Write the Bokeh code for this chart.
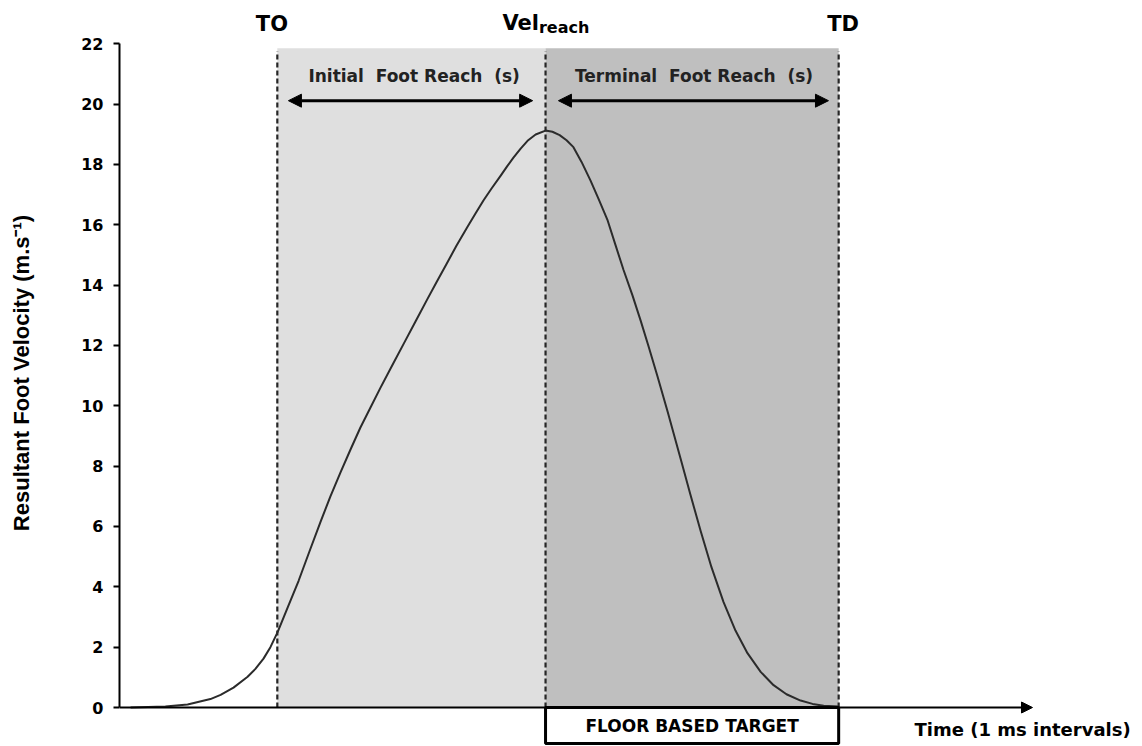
from bokeh.plotting import figure
from bokeh.models import Range1d, FixedTicker, Label, Arrow, NormalHead
from bokeh.embed import file_html
from bokeh.resources import INLINE

# ---- data ----
time_ms = [3.7, 15.3, 22.7, 30.3, 33.7, 38.0, 42.7, 45.3, 48.0, 50.3, 52.7, 56.0,
           59.7, 63.3, 67.0, 70.3, 73.7, 77.0, 80.3, 83.7, 87.0, 90.7, 94.7, 98.7,
           102.7, 105.7, 109.0, 112.3, 116.0, 118.7, 121.3, 124.0, 127.0, 129.3,
           131.3, 133.7, 136.0, 138.7, 142.0, 144.3, 146.7, 149.0, 151.3, 154.0,
           157.0, 159.7, 162.7, 165.3, 168.0, 171.0, 173.7, 176.3, 179.3, 182.7,
           187.0, 190.3, 193.7, 197.3, 201.3, 205.3, 209.3, 213.7, 218.0, 222.3,
           227.0, 231.0, 234.7, 239.7]
velocity = [0.0, 0.03, 0.1, 0.28, 0.42, 0.66, 1.02, 1.28, 1.62, 2.0, 2.5, 3.3,
            4.2, 5.17, 6.15, 7.0, 7.8, 8.55, 9.28, 9.95, 10.6, 11.3, 12.05, 12.8,
            13.55, 14.1, 14.7, 15.3, 15.93, 16.38, 16.8, 17.2, 17.62, 17.95,
            18.22, 18.52, 18.78, 18.99, 19.12, 19.08, 18.97, 18.8, 18.57, 18.08,
            17.46, 16.85, 16.14, 15.33, 14.5, 13.65, 12.82, 11.98, 10.98, 9.8,
            8.25, 7.05, 5.85, 4.65, 3.5, 2.55, 1.8, 1.18, 0.74, 0.44,
            0.23, 0.12, 0.06, 0.03]

event_names = ["TO", "Vel", "TD"]
event_times = [52.6, 142.0, 239.7]
y_ticks = [0, 2, 4, 6, 8, 10, 12, 14, 16, 18, 20, 22]
axis_end_time = 304.3

FONT = "DejaVu Sans"

p = figure(width=1140, height=745, output_backend="svg", toolbar_location=None,
           x_axis_type=None,
           x_range=Range1d(0, 340.3), y_range=Range1d(-1.259, 23.43),
           min_border_left=119, min_border_right=0, min_border_top=0, min_border_bottom=0)
p.outline_line_color = None
p.grid.visible = False
p.background_fill_color = "white"

# y axis
ya = p.yaxis[0]
ya.bounds = (0, 22)
ya.ticker = FixedTicker(ticks=y_ticks)
ya.axis_line_color = "black"
ya.axis_line_width = 2
ya.major_tick_line_width = 2
ya.major_tick_line_color = "black"
ya.major_tick_out = 6
ya.major_tick_in = 0
ya.minor_tick_out = 0
ya.minor_tick_in = 0
ya.major_label_standoff = 10
ya.major_label_text_font = FONT
ya.major_label_text_font_style = "bold"
ya.major_label_text_font_size = "16px"
ya.major_label_text_color = "black"
ya.axis_label = "Resultant Foot Velocity (m.s\u207B\u00B9)"
ya.axis_label_text_font = "Liberation Sans"
ya.axis_label_text_font_style = "bold"
ya.axis_label_text_font_size = "22px"
ya.axis_label_text_color = "black"
ya.axis_label_standoff = 44

top_shade = 21.85
# shaded phases
p.quad(left=[event_times[0]], right=[event_times[1]], bottom=[0], top=[top_shade],
       fill_color="#dfdfdf", line_color=None)
p.quad(left=[event_times[1]], right=[event_times[2]], bottom=[0], top=[top_shade],
       fill_color="#bfbfbf", line_color=None)

# dashed event lines
p.segment(x0=event_times, y0=[0] * 3, x1=event_times, y1=[21.75] * 3,
          line_color="#262626", line_width=2.2, line_dash="5 3")

# velocity curve
p.line(time_ms, velocity, line_color="#2b2b2b", line_width=2, line_join="round")

# x axis as arrow
p.add_layout(Arrow(end=NormalHead(size=11, fill_color="black", line_color="black"),
                   x_start=0, y_start=0, x_end=axis_end_time, y_end=0,
                   line_color="black", line_width=2))

# floor based target box
p.quad(left=[event_times[1]], right=[event_times[2]], bottom=[-1.19], top=[0],
       fill_color="white", line_color="black", line_width=3)
p.add_layout(Label(x=(event_times[1] + event_times[2]) / 2, y=-0.61, text="FLOOR BASED TARGET",
                   text_align="center", text_baseline="middle", text_font=FONT,
                   text_font_style="bold", text_font_size="17px", text_color="black"))

p.add_layout(Label(x=265.0, y=-0.73, text="Time (1 ms intervals)",
                   text_align="left", text_baseline="middle", text_font=FONT,
                   text_font_style="bold", text_font_size="18px", text_color="black"))

# phase arrows
for xs, xe in [(56.3, 137.7), (146.3, 236.3)]:
    p.add_layout(Arrow(start=NormalHead(size=13, fill_color="black", line_color="black"),
                       end=NormalHead(size=13, fill_color="black", line_color="black"),
                       x_start=xs, y_start=20.11, x_end=xe, y_end=20.11,
                       line_color="black", line_width=3))

p.add_layout(Label(x=98.2, y=20.94, text="Initial\u00a0 Foot Reach\u00a0 (s)", text_align="center",
                   text_baseline="middle", text_font=FONT, text_font_style="bold",
                   text_font_size="17px", text_color="#222222"))
p.add_layout(Label(x=191.5, y=20.94, text="Terminal\u00a0 Foot Reach\u00a0 (s)", text_align="center",
                   text_baseline="middle", text_font=FONT, text_font_style="bold",
                   text_font_size="17px", text_color="#222222"))

# event labels
p.add_layout(Label(x=50.8, y=22.65, text=event_names[0], text_align="center",
                   text_baseline="alphabetic", text_font=FONT, text_font_style="bold",
                   text_font_size="21px", text_color="black"))
p.add_layout(Label(x=139.8, y=22.67, text=event_names[1], text_align="right",
                   text_baseline="alphabetic", text_font=FONT, text_font_style="bold",
                   text_font_size="21px", text_color="black"))
p.add_layout(Label(x=139.8, y=22.53, text="reach", text_align="left",
                   text_baseline="alphabetic", text_font=FONT, text_font_style="bold",
                   text_font_size="16px", text_color="black"))
p.add_layout(Label(x=241.2, y=22.65, text=event_names[2], text_align="center",
                   text_baseline="alphabetic", text_font=FONT, text_font_style="bold",
                   text_font_size="21px", text_color="black"))

open("out.html", "w").write(file_html(p, INLINE))
